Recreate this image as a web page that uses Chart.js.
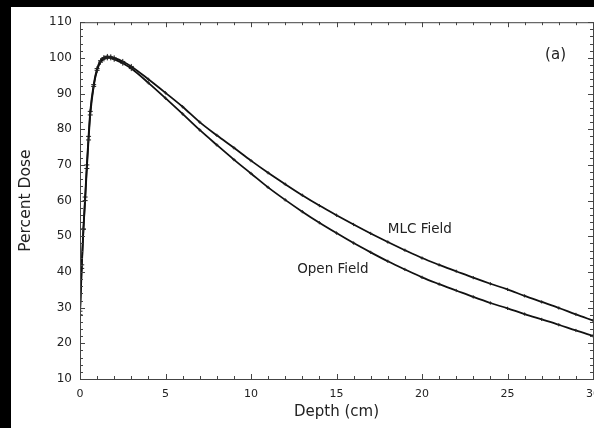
<!DOCTYPE html>
<html>
<head>
<meta charset="utf-8">
<script src="https://cdn.jsdelivr.net/npm/chart.js@4"></script>
<style>
  html, body { margin: 0; padding: 0; background: #000; overflow: hidden; width: 594px; height: 428px; }
  #box { position: absolute; left: 11px; top: 7px; width: 598px; height: 421px; background: #fff; }
</style>
</head>
<body>
<div id="box"><canvas id="myChart" width="598" height="421"></canvas></div>
<script>
// depth in cm, shared by both curves
var depths = [0, 0.1, 0.2, 0.3, 0.4, 0.5, 0.6, 0.8, 1.0, 1.2, 1.4, 1.6, 1.8, 2, 2.5,
  3, 4, 5, 6, 7, 8, 9, 10, 11, 12, 13, 14, 15, 16, 17, 18, 19, 20,
  21, 22, 23, 24, 25, 26, 27, 28, 29, 30];

var openField = [29, 42, 52, 60, 69, 77, 84, 92, 96.5, 98.8, 99.7, 100, 100, 99.6, 98.5,
  97, 93, 88.7, 84.3, 79.8, 75.6, 71.5, 67.6, 63.7, 60.2, 56.9, 53.8, 50.9, 48.1, 45.5, 43, 40.7, 38.5,
  36.6, 34.8, 33, 31.3, 29.8, 28.2, 26.7, 25.2, 23.6, 22.1];

var mlcField = [28, 41, 52, 61, 70, 78, 85, 92.5, 97, 99.2, 100.1, 100.4, 100.3, 100, 99,
  97.6, 94, 90.2, 86.3, 82, 78.3, 74.8, 71.2, 67.8, 64.6, 61.5, 58.6, 55.9, 53.3, 50.8, 48.4, 46.1, 43.9,
  42.0, 40.2, 38.4, 36.7, 35.1, 33.3, 31.6, 29.9, 28.1, 26.4];

var xTicks = [0, 5, 10, 15, 20, 25, 30];
var yTicks = [10, 20, 30, 40, 50, 60, 70, 80, 90, 100, 110];

// text labels inside the plot: [text, depth, dose, font size]
var notes = [["(a)", 27.2, 100.9, 15], ["MLC Field", 18.0, 51.8, 13.5], ["Open Field", 12.7, 40.7, 13.5]];

function toPoints(ys) {
  return depths.map(function (d, i) { return { x: d, y: ys[i] }; });
}

// frame with inward ticks on all four sides, plus the text notes
var framePlugin = {
  id: 'frame',
  afterDraw: function (chart) {
    var c = chart.ctx, a = chart.chartArea;
    var xs = chart.scales.x, ys = chart.scales.y;
    c.save();
    c.strokeStyle = '#444';
    c.lineWidth = 1;
    c.strokeRect(a.left + 0.5, a.top + 0.5, a.right - a.left, a.bottom - a.top);
    c.beginPath();
    for (var d = 0; d <= 30; d++) {
      var px = Math.round(xs.getPixelForValue(d)) + 0.5;
      var len = d % 5 === 0 ? 5 : 3;
      c.moveTo(px, a.bottom); c.lineTo(px, a.bottom - len);
      c.moveTo(px, a.top); c.lineTo(px, a.top + len);
    }
    for (var v = 10; v <= 110; v += 2) {
      var py = Math.round(ys.getPixelForValue(v)) + 0.5;
      var l2 = v % 10 === 0 ? 5 : 3;
      c.moveTo(a.left, py); c.lineTo(a.left + l2, py);
      c.moveTo(a.right, py); c.lineTo(a.right - l2, py);
    }
    c.stroke();
    c.fillStyle = '#222';
    c.textBaseline = 'middle';
    notes.forEach(function (n) {
      c.font = n[3] + 'px "DejaVu Sans"';
      c.fillText(n[0], xs.getPixelForValue(n[1]), ys.getPixelForValue(n[2]));
    });
    c.restore();
  }
};

function markerSize(ctx) {
  var p = ctx.raw;
  return p && p.x <= 3 ? 2.5 : 1.6;
}

var ctx = document.getElementById('myChart').getContext('2d');
var chart = new Chart(ctx, {
    type: 'line',
    data: {
        datasets: [{
            label: "Open Field",
            data: toPoints(openField),
            borderColor: '#111',
            borderWidth: 1.8,
            pointStyle: 'cross',
            pointRadius: markerSize,
            pointBorderColor: '#222',
            pointBorderWidth: 1,
            cubicInterpolationMode: 'monotone',
            fill: false
        },
        {
            label: "MLC Field",
            data: toPoints(mlcField),
            borderColor: '#111',
            borderWidth: 1.8,
            pointStyle: 'cross',
            pointRadius: markerSize,
            pointBorderColor: '#222',
            pointBorderWidth: 1,
            cubicInterpolationMode: 'monotone',
            fill: false
        }]
    },
    options: {
        responsive: false,
        animation: false,
        events: [],
        layout: { padding: { left: 0, right: 8, top: 11, bottom: 0 } },
        plugins: { legend: { display: false }, tooltip: { enabled: false } },
        scales: {
            x: {
                type: 'linear', min: 0, max: 30,
                grid: { display: false, drawTicks: false },
                border: { display: false },
                afterBuildTicks: function (s) { s.ticks = xTicks.map(function (v) { return { value: v }; }); },
                afterFit: function (s) { s.height = 49; },
                ticks: { color: '#222', font: { family: 'DejaVu Sans', size: 11 }, padding: 9, maxRotation: 0 },
                title: { display: true, text: 'Depth (cm)', color: '#222',
                  font: { family: 'DejaVu Sans', size: 15 }, padding: { bottom: 7, top: 0 } }
            },
            y: {
                min: 10, max: 110,
                grid: { display: false, drawTicks: false },
                border: { display: false },
                afterBuildTicks: function (s) { s.ticks = yTicks.map(function (v) { return { value: v }; }); },
                afterFit: function (s) { s.width = 69; },
                ticks: { color: '#222', font: { family: 'DejaVu Sans', size: 12 }, padding: 8 },
                title: { display: true, text: 'Percent Dose', color: '#222',
                  font: { family: 'DejaVu Sans', size: 15.5 }, padding: { top: 6, bottom: 0 } }
            }
        }
    },
    plugins: [framePlugin]
});
</script>
</body>
</html>
